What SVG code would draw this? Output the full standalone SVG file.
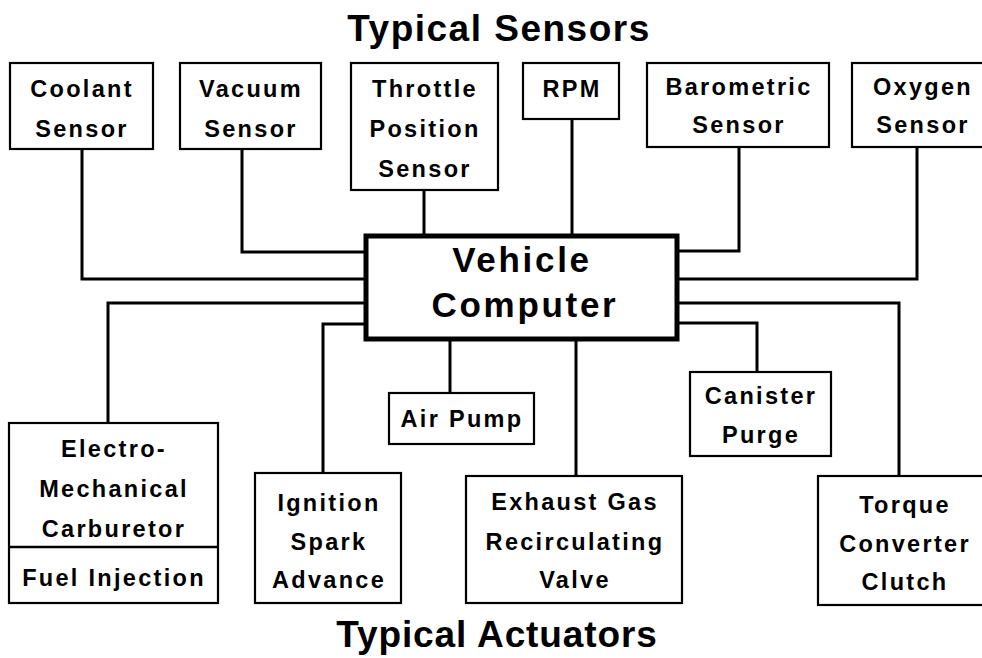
<svg xmlns="http://www.w3.org/2000/svg" width="982" height="658" viewBox="0 0 982 658">
<style>
.box{fill:#fff;stroke:#000;stroke-width:2.2}
.cpu{fill:#fff;stroke:#000;stroke-width:5}
.wire{fill:none;stroke:#000;stroke-width:3;stroke-linecap:square;stroke-linejoin:miter}
text{font-family:"Liberation Sans",Arial,Helvetica,sans-serif;font-weight:bold;fill:#000;text-anchor:middle}
.lbl{font-size:23.5px;letter-spacing:2.3px}
.big{font-size:35px;letter-spacing:2.7px}
.title{font-size:37px;letter-spacing:0.9px}
</style>
<rect width="982" height="658" fill="#fff"/>
<g id="connectors">
<path class="wire" d="M82 149V279H365"/>
<path class="wire" d="M242 149V252H365"/>
<path class="wire" d="M424 190V236"/>
<path class="wire" d="M572 119V236"/>
<path class="wire" d="M739 147V251H677"/>
<path class="wire" d="M917 147V279H677"/>
<path class="wire" d="M108 423V303H365"/>
<path class="wire" d="M323 473V324H365"/>
<path class="wire" d="M450 339V393"/>
<path class="wire" d="M576 339V476"/>
<path class="wire" d="M677 323H757V372"/>
<path class="wire" d="M677 303H899V476"/>
</g>
<g id="title-sensors"><text class="title" x="499" y="41" style="letter-spacing:1.5px">Typical Sensors</text></g>
<g id="title-actuators"><text class="title" x="497" y="647">Typical Actuators</text></g>
<g id="coolant"><rect class="box" x="10" y="63" width="143" height="86"/><text class="lbl" x="82" y="97">Coolant</text><text class="lbl" x="82" y="137">Sensor</text></g>
<g id="vacuum"><rect class="box" x="180" y="63" width="141" height="86"/><text class="lbl" x="251" y="97">Vacuum</text><text class="lbl" x="251" y="137">Sensor</text></g>
<g id="throttle"><rect class="box" x="351" y="63" width="147" height="127"/><text class="lbl" x="425" y="97">Throttle</text><text class="lbl" x="425" y="137">Position</text><text class="lbl" x="425" y="177">Sensor</text></g>
<g id="rpm"><rect class="box" x="523" y="63" width="96" height="56"/><text class="lbl" x="572" y="97">RPM</text></g>
<g id="barometric"><rect class="box" x="647" y="63" width="182" height="84"/><text class="lbl" x="739" y="95">Barometric</text><text class="lbl" x="739" y="133">Sensor</text></g>
<g id="oxygen"><rect class="box" x="852" y="63" width="140" height="84"/><text class="lbl" x="923" y="95">Oxygen</text><text class="lbl" x="923" y="133">Sensor</text></g>
<g id="computer"><rect class="cpu" x="366" y="236" width="311" height="103"/><text class="big" x="522" y="272">Vehicle</text><text class="big" x="525" y="317">Computer</text></g>
<g id="carburetor"><rect class="box" x="9" y="423" width="209" height="180"/><line x1="9" y1="547" x2="218" y2="547" stroke="#000" stroke-width="2.5"/><text class="lbl" x="114" y="457">Electro-</text><text class="lbl" x="114" y="497">Mechanical</text><text class="lbl" x="114" y="537">Carburetor</text><text class="lbl" x="114" y="586">Fuel Injection</text></g>
<g id="ignition"><rect class="box" x="255" y="473" width="146" height="130"/><text class="lbl" x="329" y="511">Ignition</text><text class="lbl" x="329" y="550">Spark</text><text class="lbl" x="329" y="588">Advance</text></g>
<g id="airpump"><rect class="box" x="389" y="393" width="145" height="51"/><text class="lbl" x="462" y="427">Air Pump</text></g>
<g id="egr"><rect class="box" x="466" y="476" width="216" height="127"/><text class="lbl" x="575" y="510">Exhaust Gas</text><text class="lbl" x="575" y="550">Recirculating</text><text class="lbl" x="575" y="588">Valve</text></g>
<g id="canister"><rect class="box" x="690" y="372" width="141" height="84"/><text class="lbl" x="761" y="404">Canister</text><text class="lbl" x="761" y="443">Purge</text></g>
<g id="torque"><rect class="box" x="818" y="476" width="174" height="129"/><text class="lbl" x="905" y="513">Torque</text><text class="lbl" x="905" y="552">Converter</text><text class="lbl" x="905" y="590">Clutch</text></g>
</svg>
